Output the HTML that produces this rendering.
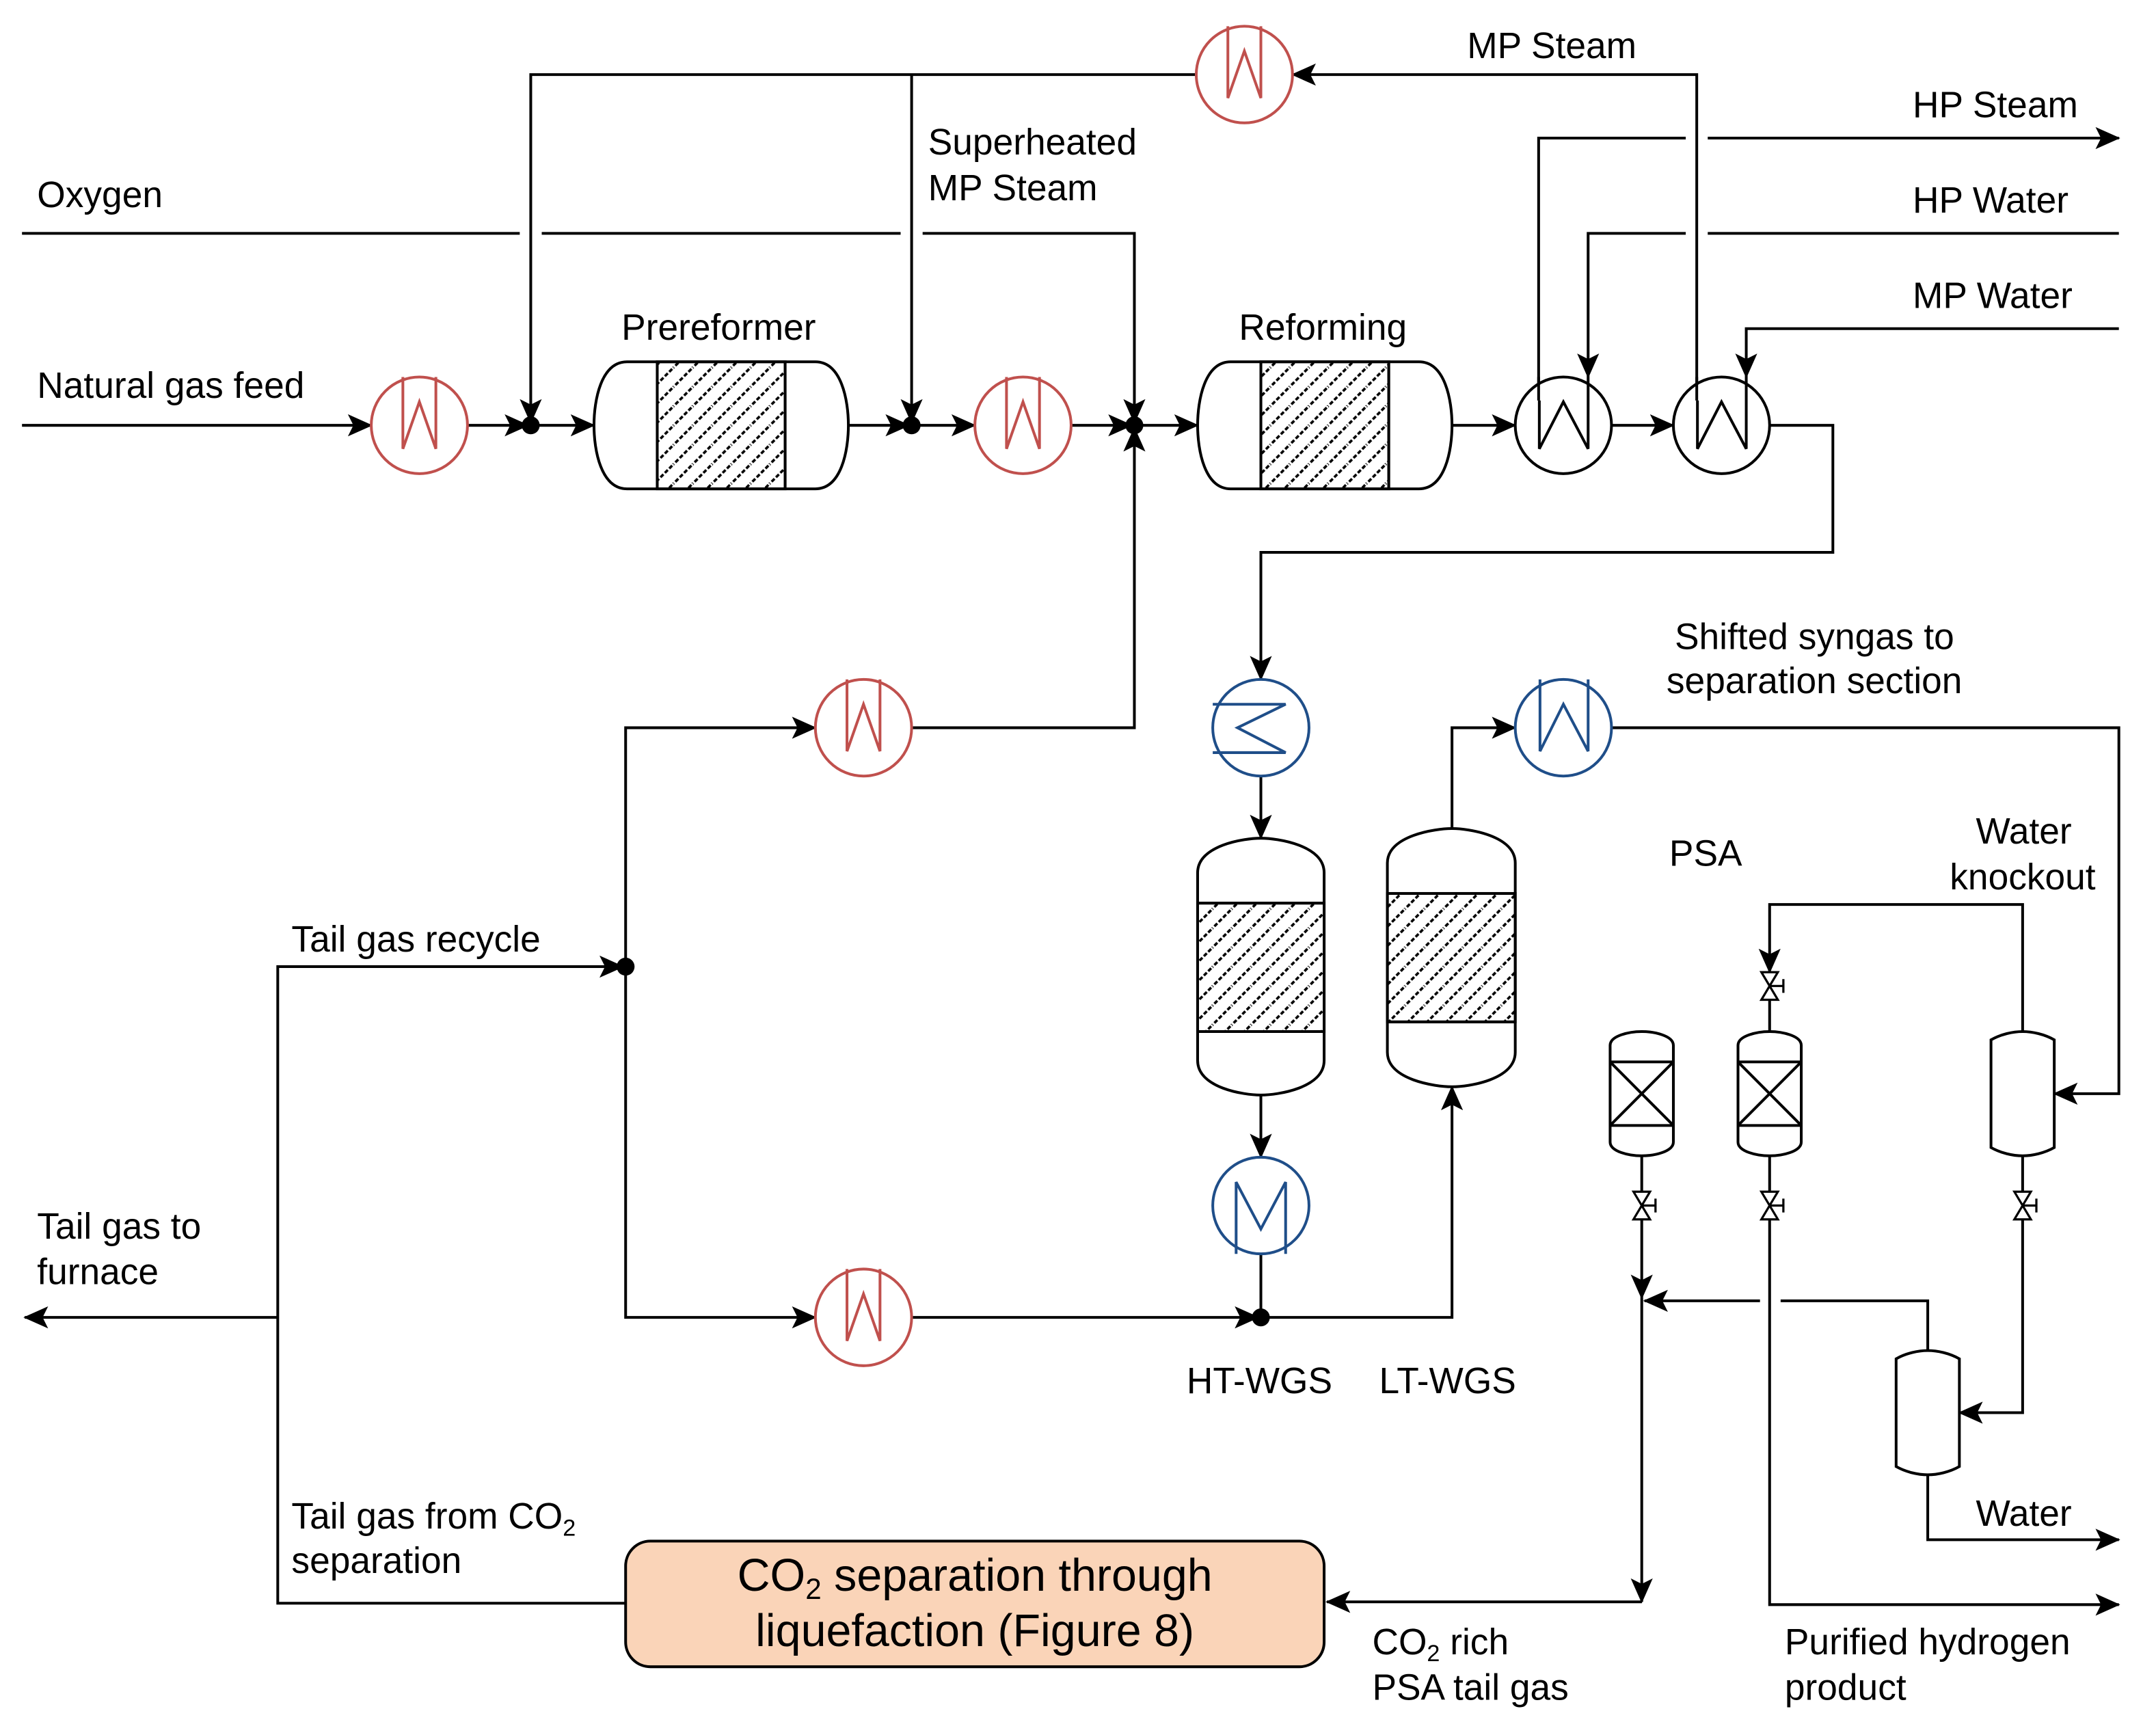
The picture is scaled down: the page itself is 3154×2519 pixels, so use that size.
<!DOCTYPE html>
<html><head><meta charset="utf-8"><style>
html,body{margin:0;padding:0;background:#fff}
svg{display:block}
text{font-family:"Liberation Sans",Arial,sans-serif;font-size:26.5px;fill:#000}
</style></head><body>
<svg width="3154" height="2519" viewBox="0 0 1568 1247" preserveAspectRatio="none" xmlns="http://www.w3.org/2000/svg">
<defs>
<marker id="a" markerWidth="18" markerHeight="16" refX="17" refY="8" orient="auto" markerUnits="userSpaceOnUse">
<path d="M0,0 L18,8 L0,16 L4,8 Z" fill="#000"/></marker>
<pattern id="h" width="14" height="14" patternUnits="userSpaceOnUse">
<path d="M-2,16 L16,-2 M-2,2 L2,-2 M12,16 L16,12" stroke="#000" stroke-width="1.8" stroke-dasharray="3,1.5"/></pattern>
</defs>
<rect width="1568" height="1247" fill="#fff"/>
<g fill="none" stroke="#000" stroke-width="2">
<path d="M16,308 H270" marker-end="url(#a)"/>
<path d="M340,308 H384" marker-end="url(#a)"/>
<path d="M386,308 H432" marker-end="url(#a)"/>
<path d="M617,308 H661" marker-end="url(#a)"/>
<path d="M663,308 H709" marker-end="url(#a)"/>
<path d="M779,308 H823" marker-end="url(#a)"/>
<path d="M825,308 H871" marker-end="url(#a)"/>
<path d="M1056,308 H1102" marker-end="url(#a)"/>
<path d="M1172,308 H1217" marker-end="url(#a)"/>
<path d="M1287,308 H1333 V400 H917 V492" marker-end="url(#a)"/>
<path d="M1234,290 V54 H940" marker-end="url(#a)"/>
<path d="M870,54 H386 V306" marker-end="url(#a)"/>
<path d="M663,54 V306" marker-end="url(#a)"/>
<path d="M16,169 H378 M394,169 H655 M671,169 H825 V306" marker-end="url(#a)"/>
<path d="M1119,290 V100 H1226 M1242,100 H1541" marker-end="url(#a)"/>
<path d="M1541,169 H1242 M1226,169 H1155 V273" marker-end="url(#a)"/>
<path d="M1541,238 H1270 V273" marker-end="url(#a)"/>
<path d="M917,562 V607" marker-end="url(#a)"/>
<path d="M917,793 V838" marker-end="url(#a)"/>
<path d="M917,908 V952"/>
<path d="M917,954 H1056 V787" marker-end="url(#a)"/>
<path d="M1056,600 V527 H1102" marker-end="url(#a)"/>
<path d="M1172,527 H1541 V792 H1494" marker-end="url(#a)"/>
<path d="M455,1161 H202 V700 H453" marker-end="url(#a)"/>
<path d="M202,954 H18" marker-end="url(#a)"/>
<path d="M455,700 V527 H593" marker-end="url(#a)"/>
<path d="M663,527 H825 V310" marker-end="url(#a)"/>
<path d="M455,700 V954 H593" marker-end="url(#a)"/>
<path d="M663,954 H915" marker-end="url(#a)"/>
<path d="M1471,747 V655 H1287 V704" marker-end="url(#a)"/>
<path d="M1287,724 V747"/>
<path d="M1194,837 V863 M1194,883 V940" marker-end="url(#a)"/>
<path d="M1194,940 V1160" marker-end="url(#a)"/>
<path d="M1194,1160 H965" marker-end="url(#a)"/>
<path d="M1402,978 V942 H1295 M1280,942 H1196" marker-end="url(#a)"/>
<path d="M1287,837 V863 M1287,883 V1162 H1541" marker-end="url(#a)"/>
<path d="M1471,837 V863 M1471,883 V1023 H1425" marker-end="url(#a)"/>
<path d="M1402,1068 V1115 H1541" marker-end="url(#a)"/>
<path d="M456,262 H593 C612,262 617,290 617,308 C617,326 612,354 593,354 H456 C437,354 432,326 432,308 C432,290 437,262 456,262 Z" fill="#fff"/>
<rect x="478" y="262" width="93" height="92" fill="url(#h)"/>
<path d="M478,262 V354 M571,262 V354"/>
<path d="M895,262 H1032 C1051,262 1056,290 1056,308 C1056,326 1051,354 1032,354 H895 C876,354 871,326 871,308 C871,290 876,262 895,262 Z" fill="#fff"/>
<rect x="917" y="262" width="93" height="92" fill="url(#h)"/>
<path d="M917,262 V354 M1010,262 V354"/>
<path d="M871,632 C871,612 905,607 917,607 C929,607 963,612 963,632 V768 C963,788 929,793 917,793 C905,793 871,788 871,768 Z" fill="#fff"/>
<rect x="871" y="654" width="92" height="93" fill="url(#h)"/>
<path d="M871,654 H963 M871,747 H963"/>
<path d="M1009,625 C1009,605 1044,600 1056,600 C1068,600 1102,605 1102,625 V762 C1102,782 1068,787 1056,787 C1044,787 1009,782 1009,762 Z" fill="#fff"/>
<rect x="1009" y="647" width="93" height="93" fill="url(#h)"/>
<path d="M1009,647 H1102 M1009,740 H1102"/>
<path d="M1171,757 C1171,750 1185,747 1194,747 C1203,747 1217,750 1217,757 V827 C1217,834 1203,837 1194,837 C1185,837 1171,834 1171,827 Z" fill="#fff"/>
<path d="M1171,769 H1217 M1171,815 H1217 M1171,769 L1217,815 M1217,769 L1171,815"/>
<path d="M1264,757 C1264,750 1278,747 1287,747 C1296,747 1310,750 1310,757 V827 C1310,834 1296,837 1287,837 C1278,837 1264,834 1264,827 Z" fill="#fff"/>
<path d="M1264,769 H1310 M1264,815 H1310 M1264,769 L1310,815 M1310,769 L1264,815"/>
<path d="M1448,753 C1455,749 1464,747 1471,747 C1478,747 1487,749 1494,753 V831 C1487,835 1478,837 1471,837 C1464,837 1455,835 1448,831 Z" fill="#fff"/>
<path d="M1379,984 C1386,980 1395,978 1402,978 C1409,978 1418,980 1425,984 V1062 C1418,1066 1409,1068 1402,1068 C1395,1068 1386,1066 1379,1062 Z" fill="#fff"/>
<g stroke-width="1.6" fill="#fff">
<path d="M1281,704 H1293 L1281,724 H1293 Z M1287,714 H1297 M1297,709 V719"/>
<path d="M1188,863 H1200 L1188,883 H1200 Z M1194,873 H1204 M1204,868 V878"/>
<path d="M1281,863 H1293 L1281,883 H1293 Z M1287,873 H1297 M1297,868 V878"/>
<path d="M1465,863 H1477 L1465,883 H1477 Z M1471,873 H1481 M1481,868 V878"/>
</g>
</g>
<g fill="#000"><circle cx="386" cy="308" r="6.5"/><circle cx="663" cy="308" r="6.5"/><circle cx="825" cy="308" r="6.5"/><circle cx="455" cy="700" r="6.5"/><circle cx="917" cy="954" r="6.5"/></g>
<g fill="#fff" stroke="#c0504d" stroke-width="2">
<circle cx="305" cy="308" r="35"/><path fill="none" d="M293,273 V325 L305,291 L317,325 V273"/>
<circle cx="744" cy="308" r="35"/><path fill="none" d="M732,273 V325 L744,291 L756,325 V273"/>
<circle cx="905" cy="54" r="35"/><path fill="none" d="M893,19 V71 L905,37 L917,71 V19"/>
<circle cx="628" cy="527" r="35"/><path fill="none" d="M616,492 V544 L628,510 L640,544 V492"/>
<circle cx="628" cy="954" r="35"/><path fill="none" d="M616,919 V971 L628,937 L640,971 V919"/>
</g>
<g fill="none" stroke="#000" stroke-width="2">
<circle cx="1137" cy="308" r="35" fill="#fff"/><path d="M1119.5,290 V325 L1137,291 L1155,325 V273"/>
<circle cx="1252" cy="308" r="35" fill="#fff"/><path d="M1234.5,290 V325 L1252,291 L1270,325 V273"/>
<path d="M1119,290 V273 M1234,290 V273"/>
</g>
<g fill="#fff" stroke="#1f4e89" stroke-width="2">
<circle cx="917" cy="527" r="35"/><path fill="none" d="M882,510 H935 L900,527 L935,545 H882"/>
<circle cx="917" cy="873" r="35"/><path fill="none" d="M899,908 V856 L917,890 L935,856 V908"/>
<circle cx="1137" cy="527" r="35"/><path fill="none" d="M1120,492 V544 L1137,510 L1155,544 V492"/>
</g>
<rect x="455" y="1116" width="508" height="91" rx="18" fill="#fad4b8" stroke="#000" stroke-width="2"/>
<text x="709" y="1152" text-anchor="middle" style="font-size:33px">CO<tspan style="font-size:21px" dy="6">2</tspan><tspan dy="-6"> separation through</tspan></text>
<text x="709" y="1192" text-anchor="middle" style="font-size:33px">liquefaction (Figure 8)</text>
<text x="1067" y="42">MP Steam</text>
<text x="1391" y="85">HP Steam</text>
<text x="1391" y="154">HP Water</text>
<text x="1391" y="223">MP Water</text>
<text x="675" y="112">Superheated</text>
<text x="675" y="145">MP Steam</text>
<text x="27" y="150">Oxygen</text>
<text x="27" y="288">Natural gas feed</text>
<text x="452" y="246">Prereformer</text>
<text x="901" y="246">Reforming</text>
<text x="1218" y="470">Shifted syngas to</text>
<text x="1212" y="502">separation section</text>
<text x="1214" y="627">PSA</text>
<text x="1437" y="611">Water</text>
<text x="1418" y="644">knockout</text>
<text x="212" y="689">Tail gas recycle</text>
<text x="27" y="897">Tail gas to</text>
<text x="27" y="930">furnace</text>
<text x="863" y="1009">HT-WGS</text>
<text x="1003" y="1009">LT-WGS</text>
<text x="212" y="1107">Tail gas from CO<tspan style="font-size:17px" dy="5">2</tspan></text>
<text x="212" y="1139">separation</text>
<text x="998" y="1198">CO<tspan style="font-size:17px" dy="5">2</tspan><tspan dy="-5"> rich</tspan></text>
<text x="998" y="1231">PSA tail gas</text>
<text x="1437" y="1105">Water</text>
<text x="1298" y="1198">Purified hydrogen</text>
<text x="1298" y="1231">product</text>
</svg>
</body></html>
